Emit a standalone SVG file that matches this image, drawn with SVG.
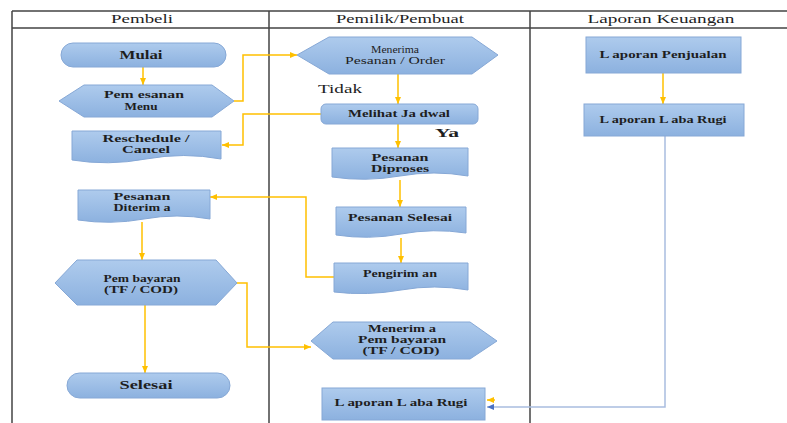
<svg xmlns="http://www.w3.org/2000/svg" width="787" height="423" viewBox="0 0 787 423">
<style>
.shape{fill:url(#g);stroke:#86a8d6;stroke-width:1}
text{font-family:"Liberation Serif","DejaVu Serif","Times New Roman",serif;fill:#1e1e1e;text-anchor:middle}
.t{font-size:10.5px;font-weight:bold}
.tn{font-size:10.5px}
.tl{font-size:11.5px;font-weight:bold}
.h{font-size:13px}
.c{fill:none;stroke:#ffc000;stroke-width:1.5;marker-end:url(#ay)}
.cb{fill:none;stroke:#a9bde0;stroke-width:1.5;marker-end:url(#ab)}
.grid{stroke:#444;stroke-width:1.5;fill:none}
</style>
<defs>
<linearGradient id="g" x1="0" y1="0" x2="0" y2="1">
<stop offset="0" stop-color="#aecbed"/>
<stop offset="1" stop-color="#8cb1df"/>
</linearGradient>
<marker id="ay" markerUnits="userSpaceOnUse" markerWidth="8" markerHeight="8" refX="7" refY="4" orient="auto"><path d="M0,1 L7,4 L0,7 Z" fill="#ffc000"/></marker>
<marker id="ab" markerUnits="userSpaceOnUse" markerWidth="8" markerHeight="8" refX="7" refY="4" orient="auto"><path d="M0,1 L7,4 L0,7 Z" fill="#4a72c4"/></marker>
</defs>
<rect width="787" height="423" fill="#fff"/>
<g id="table">
<path class="grid" d="M12,11 H787 M12,28 H787 M12,11 V423 M269,11 V423 M530,11 V423"/>
<text class="h" x="142" y="23" textLength="62" lengthAdjust="spacingAndGlyphs">Pembeli</text>
<text class="h" x="400" y="23" textLength="128" lengthAdjust="spacingAndGlyphs">Pemilik/Pembuat</text>
<text class="h" x="661" y="23" textLength="147" lengthAdjust="spacingAndGlyphs">Laporan Keuangan</text>
</g>
<g id="connectors">
<path class="c" d="M143,67 V85"/>
<path class="c" d="M234,101 H243 V55 H297"/>
<path class="c" d="M398,74 V104"/>
<path class="c" d="M321,114 H243 V145 H222"/>
<path class="c" d="M398,124 V148"/>
<path class="c" d="M400,180 V207"/>
<path class="c" d="M401,238 V263"/>
<path class="c" d="M334,277 H306 V197 H210"/>
<path class="c" d="M142,222 V260"/>
<path class="c" d="M145,305 V373"/>
<path class="c" d="M237,283 H247 V347 H311"/>
<path class="c" d="M663,73 V104"/>
<path class="c" d="M495,400 H487"/>
<path class="cb" d="M665,136 V407 H487"/>
</g>
<g id="mulai">
<rect class="shape" x="61" y="43" width="165" height="24" rx="12"/>
<text class="tl" x="141" y="58.5" textLength="43" lengthAdjust="spacingAndGlyphs">Mulai</text>
</g>
<g id="pemesanan">
<path class="shape" d="M59,101 L84,85 H212 L234,101 L212,117 H84 Z"/>
<text class="t" x="144" y="98" textLength="80" lengthAdjust="spacingAndGlyphs">Pem esanan</text>
<text class="t" x="141" y="109.5" textLength="33" lengthAdjust="spacingAndGlyphs">Menu</text>
</g>
<g id="reschedule">
<path class="shape" d="M72,131 H221 V159 Q184,152 146,159 T72,160 Z"/>
<text class="t" x="146" y="142" textLength="87" lengthAdjust="spacingAndGlyphs">Reschedule /</text>
<text class="t" x="146" y="153" textLength="48" lengthAdjust="spacingAndGlyphs">Cancel</text>
</g>
<g id="diterima">
<path class="shape" d="M78,190 H210 V219 Q177,213 144,219 T78,220 Z"/>
<text class="t" x="142" y="200" textLength="57" lengthAdjust="spacingAndGlyphs">Pesanan</text>
<text class="t" x="142" y="211" textLength="57" lengthAdjust="spacingAndGlyphs">Diterim a</text>
</g>
<g id="pembayaran">
<path class="shape" d="M55,283 L77,260 H216 L237,283 L216,305 H77 Z"/>
<text class="t" x="142" y="281.5" textLength="77" lengthAdjust="spacingAndGlyphs">Pem bayaran</text>
<text class="t" x="141" y="292.5" textLength="74" lengthAdjust="spacingAndGlyphs">(TF / COD)</text>
</g>
<g id="selesai">
<rect class="shape" x="67" y="373" width="163" height="25" rx="12.5"/>
<text class="tl" x="146" y="389" textLength="53" lengthAdjust="spacingAndGlyphs">Selesai</text>
</g>
<g id="menerima-pesanan">
<path class="shape" d="M297,55 L329,37 H472 L498,55 L472,74 H329 Z"/>
<text class="tn" x="395" y="53" textLength="48" lengthAdjust="spacingAndGlyphs">Menerima</text>
<text class="tn" x="395" y="64" textLength="100" lengthAdjust="spacingAndGlyphs">Pesanan / Order</text>
</g>
<g id="tidak"><text class="h" x="318" y="93" style="text-anchor:start" textLength="44" lengthAdjust="spacingAndGlyphs">Tidak</text></g>
<g id="melihat">
<rect class="shape" x="321" y="104" width="157" height="20" rx="5"/>
<text class="t" x="399" y="117" textLength="102" lengthAdjust="spacingAndGlyphs">Melihat Ja dwal</text>
</g>
<g id="ya"><text class="tl" x="435" y="137" style="text-anchor:start" textLength="24" lengthAdjust="spacingAndGlyphs">Ya</text></g>
<g id="diproses">
<path class="shape" d="M332,148 H468 V176 Q434,170 400,176 T332,177 Z"/>
<text class="t" x="400" y="161" textLength="57" lengthAdjust="spacingAndGlyphs">Pesanan</text>
<text class="t" x="400" y="172" textLength="58" lengthAdjust="spacingAndGlyphs">Diproses</text>
</g>
<g id="pesanan-selesai">
<path class="shape" d="M336,207 H466 V233 Q433,228 401,234 T336,235 Z"/>
<text class="t" x="400" y="221" textLength="104" lengthAdjust="spacingAndGlyphs">Pesanan Selesai</text>
</g>
<g id="pengiriman">
<path class="shape" d="M334,263 H468 V290 Q435,284 401,290 T334,292 Z"/>
<text class="t" x="400" y="277" textLength="74" lengthAdjust="spacingAndGlyphs">Pengirim an</text>
</g>
<g id="menerima-pembayaran">
<path class="shape" d="M311,341 L333,322 H470 L497,341 L470,359 H333 Z"/>
<text class="t" x="402" y="332" textLength="68" lengthAdjust="spacingAndGlyphs">Menerim a</text>
<text class="t" x="402" y="343" textLength="88" lengthAdjust="spacingAndGlyphs">Pem bayaran</text>
<text class="t" x="401" y="354" textLength="77" lengthAdjust="spacingAndGlyphs">(TF / COD)</text>
</g>
<g id="laba-rugi-bawah">
<rect class="shape" x="322" y="388" width="163" height="32"/>
<text class="t" x="401" y="406" textLength="133" lengthAdjust="spacingAndGlyphs">L aporan L aba Rugi</text>
</g>
<g id="laporan-penjualan">
<rect class="shape" x="586" y="37" width="155" height="36"/>
<text class="t" x="663" y="58" textLength="127" lengthAdjust="spacingAndGlyphs">L aporan Penjualan</text>
</g>
<g id="laba-rugi">
<rect class="shape" x="584" y="104" width="160" height="32"/>
<text class="t" x="663" y="123" textLength="127" lengthAdjust="spacingAndGlyphs">L aporan L aba Rugi</text>
</g>
</svg>
